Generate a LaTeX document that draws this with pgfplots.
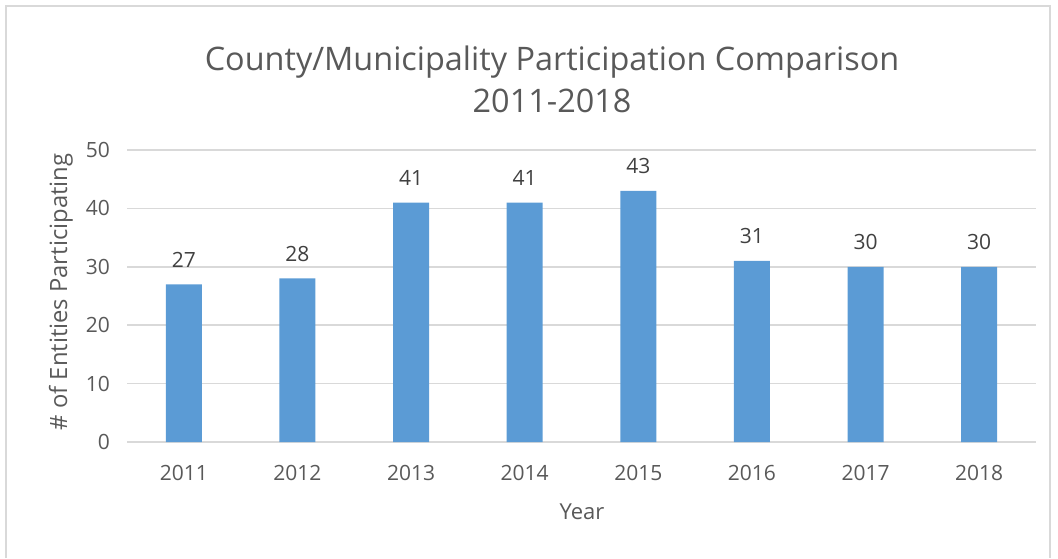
\documentclass[border=0pt]{standalone}
\usepackage{pgfplots}
\pgfplotsset{compat=1.18}
\usepackage{fontspec}
\setmainfont{Open Sans}
\definecolor{barblue}{HTML}{5B9BD5}
\definecolor{txt}{HTML}{595959}
\definecolor{lbl}{HTML}{404040}
\definecolor{gridc}{HTML}{D9D9D9}
\begin{document}
\begin{tikzpicture}[x=1pt,y=1pt]
\useasboundingbox (0,0) rectangle (1058,558);
\draw[gridc, line width=2pt] (6,0) -- (6,552) -- (1050,552) -- (1050,0);
\node[txt, font=\fontsize{32.4}{38}\selectfont, inner sep=0pt, anchor=base] at (552,487) {County/Municipality Participation Comparison};
\node[txt, font=\fontsize{32.4}{38}\selectfont, inner sep=0pt, anchor=base] at (552,445) {2011-2018};
\node[txt, font=\fontsize{22}{26}\selectfont, inner sep=0pt] at (582,46) {Year};
\node[txt, font=\fontsize{23.8}{28}\selectfont, inner sep=0pt, rotate=90] at (61,266) {\# of Entities Participating};
\begin{axis}[
  at={(127pt,116pt)}, anchor=south west,
  scale only axis, width=909pt, height=292pt,
  xmin=-0.5, xmax=7.5, ymin=0, ymax=50,
  ytick={0,10,...,50},
  xtick={0,...,7},
  xticklabels={2011,2012,2013,2014,2015,2016,2017,2018},
  axis line style={draw=none},
  ymajorgrids,
  grid style={gridc, line width=1.5pt},
  major tick length=0pt,
  tick label style={txt, font=\fontsize{21}{25}\selectfont},
  /pgf/number format/assume math mode=true,
  xticklabel style={inner sep=0pt, anchor=north, yshift=-23pt},
  yticklabel style={inner sep=0pt, anchor=east, xshift=-17pt},
  ybar, bar width=36pt,
  nodes near coords,
  every node near coord/.append style={inner sep=0pt, anchor=south, yshift=17pt, lbl, font=\fontsize{21}{25}\selectfont},
  clip=false,
]
\addplot[fill=barblue, draw=none] coordinates {(0,27) (1,28) (2,41) (3,41) (4,43) (5,31) (6,30) (7,30)};
\end{axis}
\end{tikzpicture}
\end{document}
